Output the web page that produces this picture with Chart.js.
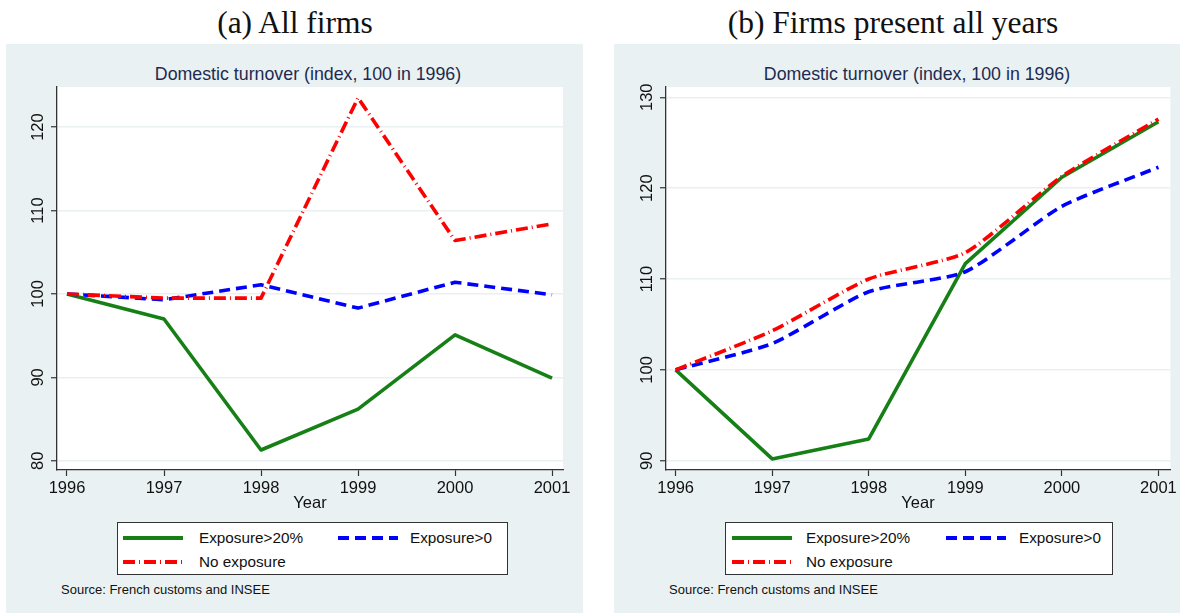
<!DOCTYPE html>
<html>
<head>
<meta charset="utf-8">
<script src="https://cdn.jsdelivr.net/npm/chart.js@4.4.1/dist/chart.umd.min.js"></script>
<style>
body { margin: 0; width: 1180px; height: 615px; background: #fff; position: relative; overflow: hidden;
       font-family: "Liberation Sans", Arial, sans-serif; }
.cap { position: absolute; top: 0; height: 44px; line-height: 46px; text-align: center;
       font-family: "Liberation Serif", serif; font-size: 31.5px; color: #111; }
.panel { position: absolute; top: 44px; height: 569px; background: #eaf1f3; }
.inner { position: absolute; top: 64px; font-size: 17.8px; color: #1d2b50; text-align: center; white-space: nowrap; }
canvas { position: absolute; top: 44px; }
.xt { position: absolute; top: 493px; font-size: 16.5px; color: #111; text-align: center; }
.legend { position: absolute; top: 522px; height: 53px; background: #fff; border: 1px solid #333; box-sizing: border-box; }
.lg { position: absolute; font-size: 15.3px; color: #111; white-space: nowrap; }
.src { position: absolute; top: 582px; font-size: 13px; color: #111; white-space: nowrap; }
svg { position: absolute; }
</style>
</head>
<body>
<div class="cap" style="left:0;width:590px;">(a) All firms</div>
<div class="cap" style="left:606px;width:574px;">(b) Firms present all years</div>

<div class="panel" style="left:6px;width:577px;"></div>
<div class="panel" style="left:614px;width:566px;"></div>

<div class="inner" style="left:108px;width:400px;">Domestic turnover (index, 100 in 1996)</div>
<div class="inner" style="left:717px;width:400px;">Domestic turnover (index, 100 in 1996)</div>

<canvas id="chartA" width="577" height="470" style="left:6px;width:577px;height:470px;"></canvas>
<canvas id="chartB" width="566" height="470" style="left:614px;width:566px;height:470px;"></canvas>

<div class="xt" style="left:260px;width:100px;">Year</div>
<div class="xt" style="left:868px;width:100px;">Year</div>

<div class="legend" style="left:117px;width:391px;"></div>
<div class="legend" style="left:725px;width:388px;"></div>
<div id="legends"></div>

<div class="src" style="left:61px;">Source: French customs and INSEE</div>
<div class="src" style="left:669px;">Source: French customs and INSEE</div>

<script>
const years = [1996, 1997, 1998, 1999, 2000, 2001];
const seriesNames = ['Exposure>20%', 'Exposure>0', 'No exposure'];

// (a) all firms
const allHigh = [100, 97.0, 81.3, 86.2, 95.1, 89.9];
const allPos = [100, 99.3, 101.1, 98.3, 101.4, 99.9];
const allNone = [100, 99.5, 99.5, 123.5, 106.4, 108.4];

// (b) firms present all years
const balHigh = [100, 90.2, 92.4, 111.7, 121.2, 127.3];
const balPos = [100, 102.9, 108.6, 110.8, 118.0, 122.3];
const balNone = [100, 104.3, 110.0, 112.9, 121.3, 127.6];

const yTicksA = [80, 90, 100, 110, 120];
const yTicksB = [90, 100, 110, 120, 130];

const GREEN = '#168016', BLUE = '#0000ff', RED = '#ff0000';
const FONT = '"Liberation Sans", Arial, sans-serif';

const frame = {
    id: 'frame',
    beforeDraw(chart) {
        const a = chart.chartArea, ctx = chart.ctx;
        ctx.save();
        ctx.fillStyle = '#fff';
        ctx.fillRect(a.left, a.top, a.right - a.left, a.bottom - a.top);
        ctx.restore();
    },
    afterDraw(chart) {
        // y labels in Stata style, rotated
        const y = chart.scales.y, ctx = chart.ctx;
        ctx.save();
        ctx.font = '16.5px ' + FONT;
        ctx.fillStyle = '#111';
        ctx.textAlign = 'center';
        ctx.textBaseline = 'middle';
        y.ticks.forEach(t => {
            ctx.save();
            ctx.translate(chart.chartArea.left - 19, y.getPixelForValue(t.value));
            ctx.rotate(-Math.PI / 2);
            ctx.fillText(String(t.value), 0, 0);
            ctx.restore();
        });
        ctx.restore();
    }
};

function points(vals) {
    return years.map((yr, i) => ({ x: yr, y: vals[i] }));
}

function makeChart(id, high, pos, none, yTicks, xr, yr, yWidth, padRight, tension) {
    const ctx = document.getElementById(id).getContext('2d');
    return new Chart(ctx, {
        type: 'line',
        data: {
            datasets: [
                { label: seriesNames[0], data: points(high), borderColor: GREEN, borderWidth: 3.6, order: 3, tension: 0 },
                { label: seriesNames[1], data: points(pos), borderColor: BLUE, borderWidth: 3.6, borderDash: [11, 6], order: 2, tension: tension },
                { label: seriesNames[2], data: points(none), borderColor: RED, borderWidth: 3.6, borderDash: [12, 4, 1, 4], order: 1, tension: tension }
            ]
        },
        options: {
            responsive: false,
            animation: false,
            events: [],
            elements: { point: { radius: 0 }, line: { fill: false, borderJoinStyle: 'round' } },
            layout: { padding: { top: 43, right: padRight, bottom: 14, left: 0 } },
            plugins: { legend: { display: false }, tooltip: { enabled: false }, title: { display: false } },
            scales: {
                x: {
                    type: 'linear',
                    min: xr[0], max: xr[1],
                    afterFit: s => { s.height = 30; },
                    afterBuildTicks: s => { s.ticks = years.map(v => ({ value: v })); },
                    grid: { drawOnChartArea: false, tickLength: 6, tickColor: '#333', tickWidth: 1.2 },
                    border: { color: '#333', width: 1.3 },
                    ticks: { color: '#111', padding: 3, font: { family: FONT, size: 16.5 }, maxRotation: 0, autoSkip: false,
                             callback: v => String(v) }
                },
                y: {
                    min: yr[0], max: yr[1],
                    afterFit: s => { s.width = yWidth; },
                    afterBuildTicks: s => { s.ticks = yTicks.map(v => ({ value: v })); },
                    grid: { color: '#e8f0f2', lineWidth: 1.5, tickLength: 6, tickColor: '#333', tickWidth: 1.2 },
                    border: { color: '#333', width: 1.3 },
                    ticks: { color: 'rgba(0,0,0,0)', font: { family: FONT, size: 16.5 } }
                }
            }
        },
        plugins: [frame]
    });
}

makeChart('chartA', allHigh, allPos, allNone, yTicksA, [1995.897, 2001.113], [78.9, 124.8], 51, 20, 0);
makeChart('chartB', balHigh, balPos, balNone, yTicksB, [1995.90, 2001.124], [88.98, 131.13], 52, 9, 0.2);

// legend keys
const keys = [
    { left: 123, text: 199, left2: 338, text2: 410 },
    { left: 732, text: 806, left2: 946, text2: 1019 }
];
const dashes = ['', '11 6', '12 4 1 4'];
const colors = [GREEN, BLUE, RED];
let html = '';
keys.forEach(k => {
    const slots = [
        { x: k.left, tx: k.text, y: 538 },
        { x: k.left2, tx: k.text2, y: 538 },
        { x: k.left, tx: k.text, y: 562 }
    ];
    slots.forEach((s, i) => {
        html += '<svg style="left:' + s.x + 'px;top:' + (s.y - 4) + 'px" width="60" height="8">' +
                '<line x1="0" y1="4" x2="60" y2="4" stroke="' + colors[i] + '" stroke-width="4"' +
                (dashes[i] ? ' stroke-dasharray="' + dashes[i] + '"' : '') + '/></svg>';
        html += '<div class="lg" style="left:' + s.tx + 'px;top:' + (s.y - 9) + 'px">' + seriesNames[i] + '</div>';
    });
});
document.getElementById('legends').innerHTML = html;
</script>
</body>
</html>
